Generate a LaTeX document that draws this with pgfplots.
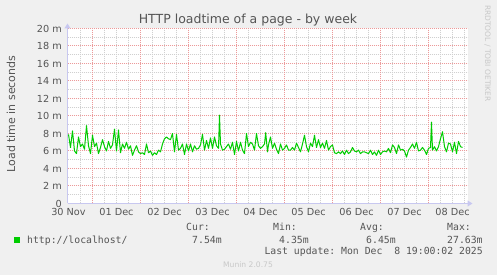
\documentclass[border=0pt]{standalone}
\usepackage{fontspec}
\setmainfont{DejaVu Sans}
\setmonofont{DejaVu Sans Mono}
\usepackage{pgfplots}
\pgfplotsset{compat=1.18}
\usetikzlibrary{arrows.meta}
\definecolor{bgc}{HTML}{F0F0F0}
\definecolor{txt}{HTML}{555555}
\definecolor{lgt}{HTML}{C8C8C8}
\definecolor{axc}{HTML}{C8C8F0}
\definecolor{mgrid}{HTML}{EC9A9A}
\definecolor{ngrid}{HTML}{D0D0D0}
\definecolor{lc}{HTML}{00CC00}
\begin{document}
\begin{tikzpicture}
\fill[bgc] (0bp,0bp) rectangle (497bp,275bp);
\useasboundingbox (0bp,0bp) rectangle (497bp,275bp);
\begin{axis}[
  at={(67.5bp,71.5bp)}, anchor=south west,
  scale only axis, width=400bp, height=175bp,
  xmin=-0.5, xmax=199.5, ymin=0, ymax=20,
  axis background/.style={fill=white},
  axis lines=left,
  axis line style={draw=axc, line width=1bp},
  x axis line style={-{Triangle[width=6bp,length=5bp]}, shorten >=-5bp},
  y axis line style={-{Triangle[width=6bp,length=5bp]}, shorten >=-5bp},
  tick style={draw=none},
  major tick length=0pt, minor tick length=0pt,
  xtick={0,24,...,192},
  xticklabels={30 Nov,01 Dec,02 Dec,03 Dec,04 Dec,05 Dec,06 Dec,07 Dec,08 Dec},
  minor xtick={6,18,24,30,42,48,54,66,72,78,90,96,102,114,120,126,138,144,150,162,168,174,186,192,198},
  ytick={0,2,...,20},
  yticklabels={0,2 m,4 m,6 m,8 m,10 m,12 m,14 m,16 m,18 m,20 m},
  minor ytick={1,3,...,19},
  xmajorgrids=false, ymajorgrids=true,
  xminorgrids=true, yminorgrids=true,
  major grid style={draw=mgrid, line width=1bp, dash pattern=on 1bp off 1bp},
  minor grid style={draw=ngrid, line width=1bp, dash pattern=on 1bp off 1bp},
  extra x ticks={12,36,60,84,108,132,156,180},
  extra x tick labels={},
  extra x tick style={grid=major},
  xticklabel style={font=\fontsize{9.7bp}{11bp}\selectfont, text=txt, inner sep=0pt, anchor=north, yshift=-5bp},
  yticklabel style={font=\fontsize{9.7bp}{11bp}\selectfont, text=txt, inner sep=0pt, anchor=east, xshift=-5.5bp},
]
\addplot[lc, line width=1bp, line join=round] coordinates {
(0,7.9)(1,6.4)(2,8.3)(3,6.0)(4,5.7)(5,7.6)(6,6.5)(7,6.8)(8,6.2)(9,8.9)
(10,6.6)(11,5.7)(12,7.8)(13,6.5)(14,6.9)(15,5.7)(16,6.4)(17,7.3)(18,6.5)(19,6.0)
(20,7.1)(21,6.3)(22,6.7)(23,8.5)(24,6.0)(25,8.4)(26,5.8)(27,6.8)(28,6.3)(29,7.0)
(30,6.2)(31,6.6)(32,5.5)(33,6.1)(34,6.6)(35,5.9)(36,5.7)(37,5.8)(38,5.6)(39,6.8)
(40,5.8)(41,6.0)(42,5.5)(43,5.8)(44,5.6)(45,6.1)(46,5.9)(47,6.8)(48,7.4)(49,7.6)
(50,7.4)(51,7.3)(52,8.0)(53,5.9)(54,7.9)(55,6.1)(56,6.3)(57,6.8)(58,5.6)(59,6.8)
(60,6.0)(61,6.8)(62,5.9)(63,6.6)(64,6.2)(65,6.3)(66,6.7)(67,7.9)(68,6.1)(69,7.2)
(70,6.3)(71,7.5)(72,6.3)(73,7.6)(74,6.6)(75,6.3)(75.5,10.1)(76,6.8)(77,6.1)(78,6.2)(79,6.5)
(80,6.8)(81,6.2)(82,7.0)(83,5.6)(84,7.1)(85,6.0)(86,7.0)(87,6.1)(88,5.7)(89,8.0)
(90,6.5)(91,7.0)(92,6.8)(93,6.1)(94,8.0)(95,6.6)(96,6.3)(97,6.5)(98,6.8)(98.6,8.1)(99.5,5.9)
(100,6.7)(101,7.6)(102,6.3)(103,6.9)(104,6.2)(105,5.7)(106,6.8)(107,6.1)(108,6.3)(109,6.7)
(110,6.1)(111,6.1)(112,6.4)(113,6.1)(114,6.9)(115,6.4)(116,5.9)(117,6.8)(118,7.8)(119,6.5)
(120,5.9)(121,6.9)(122,6.5)(123,7.8)(124,6.4)(125,7.3)(126,6.4)(127,6.9)(128,6.3)(129,7.2)
(130,6.1)(131,6.5)(132,6.7)(133,5.8)(134,5.7)(135,5.9)(136,5.7)(137,6.0)(138,5.6)(139,6.1)
(140,5.7)(141,5.9)(142,6.4)(143,6.0)(144,5.9)(145,6.1)(146,5.7)(147,5.9)(148,5.9)(149,5.8)
(150,5.7)(151,6.1)(152,5.6)(153,5.9)(154,5.5)(155,6.1)(156,5.6)(157,5.9)(158,6.0)(159,5.9)
(160,6.3)(161,5.8)(162,6.7)(163,6.4)(164,5.7)(165,6.7)(166,6.1)(167,6.2)(168,6.0)(169,5.3)
(170,6.1)(171,6.4)(172,6.8)(173,6.3)(174,7.0)(175,6.0)(176,6.1)(177,6.4)(178,6.1)(179,5.6)
(180,6.3)(181,6.4)(181.5,9.3)(182,6.1)(183,6.5)(184,6.0)(185,6.5)(186,7.4)(187,8.2)(188,6.5)(189,5.9)
(190,6.9)(191,6.8)(192,5.9)(193,7.0)(194,5.7)(195,7.1)(196,6.5)(197,6.4)
};
\end{axis}
% title and labels
\node[anchor=base, inner sep=0pt, text=txt, font=\fontsize{12.5bp}{14bp}\selectfont] at (248bp,251bp) {HTTP loadtime of a page - by week};
\node[anchor=base, inner sep=0pt, rotate=90, text=txt, font=\fontsize{11bp}{13bp}\selectfont] at (15bp,161bp) {Load time in seconds};
\node[anchor=base, inner sep=0pt, rotate=-90, text=lgt, font=\fontsize{7.5bp}{9bp}\selectfont] at (485bp,221.5bp) {RRDTOOL / TOBI OETIKER};
% legend
\begin{scope}[every node/.style={inner sep=0pt, text=txt, font=\ttfamily\fontsize{9.8bp}{11bp}\selectfont}]
\node[anchor=base west] at (186bp,44bp) {Cur:};
\node[anchor=base west] at (273bp,44bp) {Min:};
\node[anchor=base west] at (360bp,44bp) {Avg:};
\node[anchor=base west] at (447bp,44bp) {Max:};
\node[anchor=base west] at (14bp,32bp) {\textcolor{lc}{\rule{6bp}{6bp}}};
\node[anchor=base west] at (27bp,32bp) {http://localhost/};
\node[anchor=base west] at (192bp,32bp) {7.54m};
\node[anchor=base west] at (279bp,32bp) {4.35m};
\node[anchor=base west] at (366bp,32bp) {6.45m};
\node[anchor=base west] at (447bp,32bp) {27.63m};
\node[anchor=base east] at (483bp,21bp) {Last~update:~Mon~Dec~~8~19:00:02~2025};
\end{scope}
\node[anchor=base, inner sep=0pt, text=lgt, font=\fontsize{7.6bp}{9bp}\selectfont] at (248bp,8bp) {Munin 2.0.75};
\end{tikzpicture}
\end{document}
